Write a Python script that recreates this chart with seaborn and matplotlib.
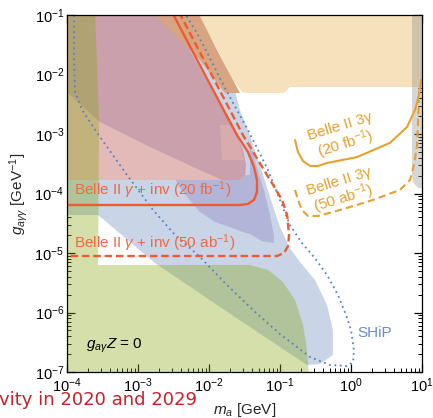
import numpy as np
import matplotlib
matplotlib.use("Agg")
import matplotlib.pyplot as plt
from matplotlib.ticker import LogLocator, NullFormatter
import seaborn as sns

# ---- shaded regions (m_a in GeV, g in GeV^-1) ----
beige_m = [6.35e-3, 12, 12, 0.138, 0.114, 3.01e-2, 2.18e-2, 1.21e-2]
beige_g = [0.12, 0.12, 6.17e-3, 6.17e-3, 4.89e-3, 4.89e-3, 8.1e-3, 3.13e-2]

blue_m = [8e-5, 8e-5, 2.74e-4, 1.73e-3, 2.32e-2, 0.240, 0.366, 0.557, 0.557, 0.459,
          0.311, 0.191, 0.138, 0.100, 7.23e-2, 5.22e-2, 3.54e-2, 2.73e-2, 2.11e-2,
          1.21e-2, 7.47e-3, 6.1e-3, 8e-5]
blue_g = [1.8e-4, 4.35e-5, 4.35e-5, 6.8e-6, 8.4e-7, 1.31e-7, 1.36e-7, 1.93e-7, 5.1e-7,
          1.34e-6, 3.52e-6, 7.06e-6, 1.21e-5, 2.74e-5, 8.7e-5, 3.01e-4, 1.17e-3,
          2.53e-3, 8.1e-3, 2.58e-2, 8.2e-2, 0.12, 0.12]

dblue_m = [3.32e-3, 3.78e-2, 3.78e-2, 4.59e-2, 5.95e-2, 7.23e-2, 8.2e-2, 8.2e-2,
           5.57e-2, 3.78e-2, 3.01e-2, 2.32e-2, 1.21e-2, 7.47e-3, 5.06e-3, 3.65e-3]
dblue_g = [1.82e-4, 2.05e-4, 7.9e-4, 3.01e-4, 1.15e-4, 4.35e-5, 2.01e-5, 1.47e-5,
           1.59e-5, 2.09e-5, 2.25e-5, 2.53e-5, 3.32e-5, 4.89e-5, 8.4e-5, 1.39e-4]

pink_m = [8e-5, 2.92e-3, 2.92e-3, 7.0e-3, 1.62e-2, 2.32e-2, 3.01e-2, 3.32e-2,
          3.21e-2, 2.73e-2, 8e-5]
pink_g = [0.12, 0.12, 0.1, 1.44e-2, 2.34e-3, 1.08e-3, 5.4e-4, 3.01e-4,
          1.97e-4, 1.69e-4, 1.69e-4]

mauve_m = [8e-5, 2.92e-3, 2.92e-3, 7.0e-3, 1.62e-2, 2.32e-2, 3.01e-2, 3.32e-2,
           3.21e-2, 2.73e-2, 1.52e-2, 7.47e-3, 1.48e-3, 2.92e-4, 1e-4, 8e-5]
mauve_g = [0.12, 0.12, 0.1, 1.44e-2, 2.34e-3, 1.08e-3, 5.4e-4, 3.01e-4,
           1.97e-4, 1.69e-4, 1.69e-4, 2.48e-4, 6.05e-4, 1.59e-3, 5.08e-3, 6.4e-3]

salmon_m = [1.43e-2, 2.04e-2, 2.73e-2, 3.11e-2, 1.52e-2]
salmon_g = [1.42e-3, 1.42e-3, 6.5e-4, 3.65e-4, 3.65e-4]

tan_m = [1.48e-3, 6.78e-3, 1.34e-2, 2.73e-2, 1.68e-2, 7.47e-3, 3.32e-3]
tan_g = [0.12, 0.12, 2.39e-2, 4.89e-3, 4.89e-3, 1.75e-2, 4.61e-2]

green_m = [8e-5, 2.48e-4, 2.83e-4, 2.74e-4, 3.78e-2, 6.78e-2, 0.110, 0.163,
           0.211, 0.240, 0.256, 8e-5]
green_g = [0.12, 0.12, 1.72e-3, 6.3e-6, 6.3e-6, 5.2e-6, 3.26e-6, 1.62e-6,
           6.2e-7, 2.34e-7, 9e-8, 9e-8]

grey_m = [7.23, 12, 12, 8.78, 7.46, 7.23]
grey_g = [0.12, 0.12, 1.2e-4, 1.24e-4, 1.56e-4, 2.05e-4]

# ---- sensitivity curves ----
inv20_m = [3.01e-3, 8.8e-3, 2.48e-2, 3.54e-2, 4.3e-2, 4.74e-2, 4.74e-2, 4.3e-2,
           3.54e-2, 2.73e-2, 1e-4]
inv20_g = [0.112, 9.8e-3, 9.6e-4, 4.98e-4, 2.79e-4, 1.69e-4, 1.06e-4, 7.8e-5,
           6.67e-5, 6.41e-5, 6.41e-5]

inv50_m = [3.78e-3, 3.01e-2, 4.90e-2, 7.7e-2, 0.107, 0.126, 0.134, 0.130, 0.114,
           9.08e-2, 1e-4]
inv50_g = [0.112, 9.6e-4, 3.65e-4, 1.5e-4, 7.8e-5, 4.35e-5, 2.01e-5, 1.31e-5,
           1.0e-5, 8.9e-6, 8.9e-6]

ship_m = [1.26e-4, 1.26e-4, 1.30e-4, 1.63e-4, 2.92e-4, 7.0e-4, 1.63e-3, 3.32e-3,
          7.47e-3, 1.68e-2, 4.17e-2, 0.100, 0.265, 0.506, 0.879, 1.07, 1.10, 1.0,
          0.851, 0.656, 0.459, 0.311, 0.204, 0.138, 9.37e-2, 6.78e-2, 4.90e-2,
          3.66e-2, 2.48e-2, 1.68e-2, 1.10e-2, 7.0e-3, 4.74e-3, 1.26e-4]
ship_g = [0.1, 1.75e-2, 5.08e-3, 2.53e-3, 8.9e-4, 2.05e-4, 5.28e-5, 2.01e-5,
          8.6e-6, 3.13e-6, 1.10e-6, 4.35e-7, 1.79e-7, 1.31e-7, 1.26e-7, 1.47e-7,
          2.34e-7, 5.1e-7, 9.1e-7, 1.97e-6, 4.27e-6, 8.2e-6, 1.47e-5, 2.96e-5,
          9.4e-5, 2.48e-4, 5.4e-4, 1.08e-3, 2.53e-3, 5.93e-3, 1.62e-2, 4.61e-2,
          0.1, 0.1]

g3_20_m = [0.163, 0.179, 0.211, 0.265, 0.343, 0.459, 1.22, 3.54, 6.15, 7.96, 9.07, 9.7]
g3_20_g = [7.9e-4, 4.98e-4, 3.52e-4, 2.9e-4, 2.9e-4, 3.26e-4, 4.10e-4, 7.1e-4,
           1.31e-3, 2.53e-3, 4.52e-3, 8.1e-3]

g3_50_m = [0.163, 0.179, 0.204, 0.248, 0.343, 0.700, 2.04, 4.90, 6.78, 7.71, 8.51,
           8.78, 9.07]
g3_50_g = [1.15e-4, 7.8e-5, 5.28e-5, 4.19e-5, 4.19e-5, 5.28e-5, 7.8e-5, 1.15e-4,
           1.69e-4, 3.01e-4, 6.5e-4, 1.42e-3, 3.73e-3]

red = '#ee5b30'
red_txt = '#ef6a42'
orange = '#e6a12e'
shipc = '#5b7fc0'

sns.set_theme(style='ticks')
plt.rcParams['font.family'] = ['Liberation Sans', 'DejaVu Sans']
plt.rcParams['mathtext.fontset'] = 'custom'
plt.rcParams['mathtext.rm'] = 'Liberation Sans'
plt.rcParams['mathtext.it'] = 'Liberation Sans:italic'
plt.rcParams['mathtext.bf'] = 'Liberation Sans:bold'

fig = plt.figure(figsize=(4.33, 4.18), dpi=100)
ax = fig.add_axes([0.1547, 0.1100, 0.8199, 0.8541])
ax.set_xscale('log')
ax.set_yscale('log')

# shaded regions
ax.fill(beige_m, beige_g, color='#f5e1bb', lw=0, zorder=1)
ax.fill(blue_m, blue_g, color='#c9d4e7', lw=0, zorder=1)
ax.fill(dblue_m, dblue_g, color='#b3b5d8', lw=0, zorder=1)
ax.fill(pink_m, pink_g, color='#e3bab8', lw=0, zorder=1)
ax.fill(mauve_m, mauve_g, color='#c9a0ab', lw=0, zorder=1)
ax.fill(salmon_m, salmon_g, color='#d8acae', lw=0, zorder=1)
ax.fill(tan_m, tan_g, color='#d8a582', lw=0, zorder=1)
ax.fill(green_m, green_g, color='#87a60c', alpha=0.35, lw=0, zorder=2)
ax.fill(grey_m, grey_g, color='#8c8c8c', alpha=0.35, lw=0, zorder=2)

# curves
kw = dict(sort=False, estimator=None, ax=ax, legend=False, zorder=3)
sns.lineplot(x=ship_m, y=ship_g, color=shipc, lw=1.3, linestyle=(0, (1, 2)), **kw)
sns.lineplot(x=inv20_m, y=inv20_g, color=red, lw=1.7, **kw)
sns.lineplot(x=inv50_m, y=inv50_g, color=red, lw=1.7, linestyle=(0, (3.2, 1.6)), **kw)
sns.lineplot(x=g3_20_m, y=g3_20_g, color=orange, lw=1.5, **kw)
sns.lineplot(x=g3_50_m, y=g3_50_g, color=orange, lw=1.5, linestyle=(0, (3.5, 2)), **kw)

# labels inside the plot
ax.text(1.26e-4, 1.15e-4, r'Belle II $\gamma$ + inv (20 fb$^{-1}$)', color=red_txt,
        fontsize=11, ha='left', va='center', zorder=4)
ax.text(1.26e-4, 1.47e-5, r'Belle II $\gamma$ + inv (50 ab$^{-1}$)', color=red_txt,
        fontsize=11, ha='left', va='center', zorder=4)
ax.text(0.771, 8.9e-4, 'Belle II 3γ\n(20 fb$^{-1}$)', color=orange, fontsize=11,
        rotation=17, rotation_mode='anchor', ha='center', va='center',
        linespacing=1.0, zorder=4)
ax.text(0.746, 1.06e-4, 'Belle II 3γ\n(50 ab$^{-1}$)', color=orange, fontsize=11,
        rotation=17, rotation_mode='anchor', ha='center', va='center',
        linespacing=1.0, zorder=4)
ax.text(2.18, 4.52e-7, 'SHiP', color='#6a8cc8', fontsize=11, ha='center', va='center', zorder=4)
ax.text(4.59e-4, 2.74e-7, r'$g_{a\gamma}Z$ = 0', color='black', fontsize=11,
        ha='center', va='center', zorder=4)

ax.set_xlim(1e-4, 10)
ax.set_ylim(1e-7, 1e-1)
ax.xaxis.set_major_locator(LogLocator(base=10, numticks=20))
ax.yaxis.set_major_locator(LogLocator(base=10, numticks=20))
ax.xaxis.set_minor_locator(LogLocator(base=10, subs=np.arange(2, 10), numticks=20))
ax.yaxis.set_minor_locator(LogLocator(base=10, subs=np.arange(2, 10), numticks=20))
ax.xaxis.set_minor_formatter(NullFormatter())
ax.yaxis.set_minor_formatter(NullFormatter())
ax.tick_params(which='both', direction='in', top=True, right=True, colors='black',
               labelsize=10.5)
ax.tick_params(which='major', length=6, width=0.9)
ax.tick_params(which='minor', length=3, width=0.7)
ax.tick_params(axis='y', pad=2)
for s in ax.spines.values():
    s.set_color('black')
    s.set_linewidth(0.9)
    s.set_zorder(5)

ax.set_xlabel(r'$m_a$ [GeV]', fontsize=11)
ax.set_ylabel(r'$g_{a\gamma\gamma}$ [GeV$^{-1}$]', fontsize=11)
ax.xaxis.set_label_coords(0.5, -0.08)
ax.yaxis.set_label_coords(-0.105, 0.5)

fig.text(-0.003, 0.03, 'vity in 2020 and 2029', color='#c8202a', fontsize=13,
         family='DejaVu Sans', va='baseline', ha='left')

fig.savefig('out.png', dpi=100)
